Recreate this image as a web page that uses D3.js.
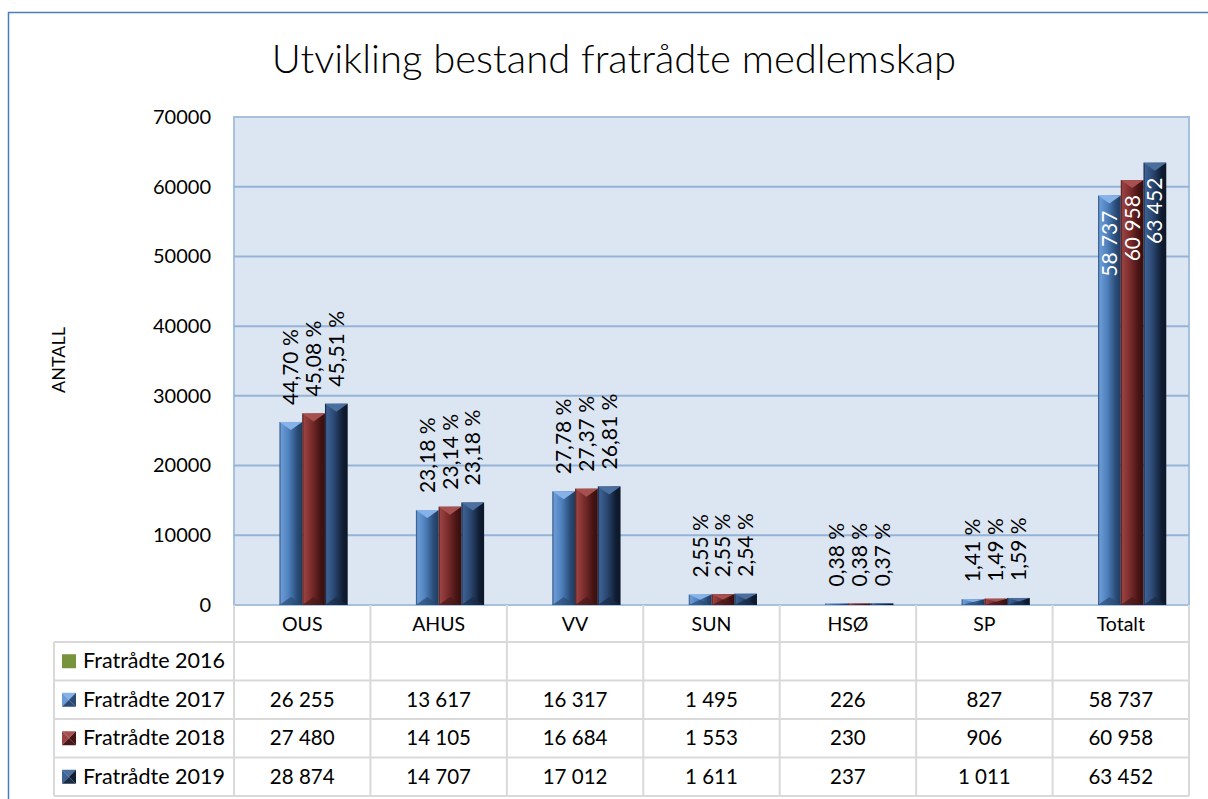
<!DOCTYPE html>
<html lang="no">
<head>
<meta charset="UTF-8" />
<title>Utvikling bestand fratrådte medlemskap</title>
<style>
  body { margin: 0; background: #fff; }
  svg { display: block; font-family: Lato, "Noto Sans", sans-serif; }
</style>
</head>
<body>
<script src="https://d3js.org/d3.v7.min.js"></script>
<script>

// data
var categories = ["OUS", "AHUS", "VV", "SUN", "HSØ", "SP", "Totalt"];
var seriesNames = ["Fratrådte 2016", "Fratrådte 2017", "Fratrådte 2018", "Fratrådte 2019"];
var v2016 = [null, null, null, null, null, null, null];
var v2017 = [26255, 13617, 16317, 1495, 226, 827, 58737];
var v2018 = [27480, 14105, 16684, 1553, 230, 906, 60958];
var v2019 = [28874, 14707, 17012, 1611, 237, 1011, 63452];
var yTicks = [0, 10000, 20000, 30000, 40000, 50000, 60000, 70000];

var allValues = [v2016, v2017, v2018, v2019];

// colours of each series: [light, main, dark, top bevel, bottom bevel]
var palette = [
  ["#8aa94c", "#77933c", "#4f6228", "#9bbb59", "#4f6228"],
  ["#6b9bd6", "#4f81bd", "#284a75", "#86b2ea", "#2a4b73"],
  ["#9a4242", "#7b2c2c", "#451313", "#a65050", "#471818"],
  ["#3d6194", "#2b4872", "#0f1c31", "#4a6f9f", "#1a2b45"]
];

var width = 1208, height = 799;
var plot = { left: 234, right: 1189, top: 117, bottom: 605 };
var tableLeft = 54;
var headerBottom = 642;
var rowHeight = 38.5;

var loc = d3.formatLocale({ decimal: ",", thousands: " ", grouping: [3], currency: ["", ""] });
var fmtNum = loc.format(",d");
var fmtPct = function(v) { return loc.format(".2f")(v * 100) + " %"; };

var svg = d3.select("body").append("svg")
  .attr("width", width)
  .attr("height", height);

var defs = svg.append("defs");
palette.forEach(function(c, i) {
  var g = defs.append("linearGradient")
    .attr("id", "grad" + i)
    .attr("x1", 0).attr("x2", 1).attr("y1", 0).attr("y2", 0);
  g.append("stop").attr("offset", "0%").attr("stop-color", c[2]);
  g.append("stop").attr("offset", "8%").attr("stop-color", c[0]);
  g.append("stop").attr("offset", "40%").attr("stop-color", c[1]);
  g.append("stop").attr("offset", "80%").attr("stop-color", c[2]);
  g.append("stop").attr("offset", "100%").attr("stop-color", d3.color(c[2]).darker(0.6));
});

// outer chart frame
svg.append("rect")
  .attr("x", 8.5).attr("y", 12.5)
  .attr("width", 1400).attr("height", 1000)
  .attr("fill", "none")
  .attr("stroke", "#4a7ebb")
  .attr("stroke-width", 1.5);

svg.append("text")
  .attr("x", 614).attr("y", 73)
  .attr("text-anchor", "middle")
  .attr("font-size", 40)
  .attr("font-weight", 300)
  .attr("fill", "#000")
  .text("Utvikling bestand fratrådte medlemskap");

var y = d3.scaleLinear().domain([0, 70000]).range([plot.bottom, plot.top]);
var x0 = d3.scaleBand().domain(categories).range([plot.left, plot.right]);
// four slots per category, the empty 2016 series keeps the first one
var x1 = d3.scaleBand().domain([0, 1, 2, 3]).range([0, x0.bandwidth()]).paddingOuter(1);

// plot area
svg.append("rect")
  .attr("x", plot.left).attr("y", plot.top)
  .attr("width", plot.right - plot.left).attr("height", plot.bottom - plot.top)
  .attr("fill", "#dce6f2")
  .attr("stroke", "#a7c0de")
  .attr("stroke-width", 2);

svg.append("g")
  .selectAll("line")
  .data(yTicks.filter(function(t) { return t > 0 && t < 70000; }))
  .join("line")
  .attr("x1", plot.left).attr("x2", plot.right)
  .attr("y1", function(d) { return y(d); })
  .attr("y2", function(d) { return y(d); })
  .attr("stroke", "#95b3d7")
  .attr("stroke-width", 2);

// y axis labels
var yAxis = d3.axisLeft(y).tickValues(yTicks).tickSize(0).tickPadding(23).tickFormat(d3.format("d"));
var yg = svg.append("g").attr("transform", "translate(" + plot.left + ",0)").call(yAxis);
yg.select(".domain").remove();
yg.selectAll("text").attr("font-size", 20).attr("font-family", "Lato, sans-serif").attr("fill", "#000");

svg.append("text")
  .attr("transform", "translate(65,360) rotate(-90)")
  .attr("text-anchor", "middle")
  .attr("font-size", 18)
  .text("ANTALL");

// bars
var barData = [];
[1, 2, 3].forEach(function(s) {
  categories.forEach(function(c, i) {
    barData.push({ s: s, cat: c, i: i, v: allValues[s][i], total: allValues[s][categories.length - 1] });
  });
});

var bars = svg.append("g").selectAll("g")
  .data(barData)
  .join("g")
  .attr("transform", function(d) { return "translate(" + (x0(d.cat) + x1(d.s)) + ",0)"; });

var bw = x1.bandwidth();

bars.append("rect")
  .attr("x", 0)
  .attr("y", function(d) { return y(d.v); })
  .attr("width", bw)
  .attr("height", function(d) { return y(0) - y(d.v); })
  .attr("fill", function(d) { return "url(#grad" + d.s + ")"; });

bars.append("path")
  .attr("d", function(d) {
    var t = y(d.v), h = Math.min(8, (y(0) - t) / 2);
    return "M0," + t + "L" + bw + "," + t + "L" + (bw / 2) + "," + (t + h) + "Z";
  })
  .attr("fill", function(d) { return palette[d.s][3]; });

bars.append("path")
  .attr("d", function(d) {
    var b = y(0), h = Math.min(8, (y(0) - y(d.v)) / 2);
    return "M0," + b + "L" + bw + "," + b + "L" + (bw / 2) + "," + (b - h) + "Z";
  })
  .attr("fill", function(d) { return palette[d.s][4]; })
  .attr("opacity", 0.7);

// data labels
bars.append("text")
  .attr("transform", function(d) {
    var ty = d.cat === "Totalt" ? y(d.v) + 15 : y(d.v) - 17;
    return "translate(" + (bw / 2 + 7.5) + "," + ty + ") rotate(-90)";
  })
  .attr("text-anchor", function(d) { return d.cat === "Totalt" ? "end" : "start"; })
  .attr("font-size", 21)
  .attr("fill", function(d) { return d.cat === "Totalt" ? "#fff" : "#000"; })
  .text(function(d) { return d.cat === "Totalt" ? fmtNum(d.v) : fmtPct(d.v / d.total); });

// data table
var table = svg.append("g");
var gridColor = "#d9d9d9";
var tableBottom = headerBottom + rowHeight * 4;

x0.domain().concat([null]).forEach(function(c) {
  var xx = c === null ? plot.right : x0(c);
  table.append("line")
    .attr("x1", xx).attr("x2", xx)
    .attr("y1", plot.bottom).attr("y2", tableBottom)
    .attr("stroke", gridColor).attr("stroke-width", 2);
});
table.append("line")
  .attr("x1", tableLeft).attr("x2", tableLeft)
  .attr("y1", headerBottom).attr("y2", tableBottom)
  .attr("stroke", gridColor).attr("stroke-width", 2);
d3.range(5).forEach(function(r) {
  var yy = headerBottom + r * rowHeight;
  table.append("line")
    .attr("x1", tableLeft).attr("x2", plot.right)
    .attr("y1", yy).attr("y2", yy)
    .attr("stroke", gridColor).attr("stroke-width", 2);
});

table.selectAll(".cat")
  .data(categories)
  .join("text")
  .attr("x", function(d) { return x0(d) + x0.bandwidth() / 2; })
  .attr("y", 631)
  .attr("text-anchor", "middle")
  .attr("font-size", 19.5)
  .text(function(d) { return d; });

seriesNames.forEach(function(name, s) {
  var cy = headerBottom + s * rowHeight + rowHeight / 2;
  var m = table.append("g").attr("transform", "translate(69," + cy + ")");
  var c = palette[s];
  if (s === 0) {
    m.append("rect").attr("x", -7).attr("y", -7).attr("width", 14).attr("height", 14).attr("fill", c[1]);
  } else {
    m.append("path").attr("d", "M-7,-7L7,-7L0,0Z").attr("fill", c[3]);
    m.append("path").attr("d", "M-7,-7L-7,7L0,0Z").attr("fill", c[0]);
    m.append("path").attr("d", "M7,-7L7,7L0,0Z").attr("fill", c[2]);
    m.append("path").attr("d", "M-7,7L7,7L0,0Z").attr("fill", c[4]);
  }
  table.append("text")
    .attr("x", 83).attr("y", cy + 7)
    .attr("font-size", 21.5)
    .text(name);
  table.append("g").selectAll("text")
    .data(allValues[s])
    .join("text")
    .attr("x", function(d, i) { return x0(categories[i]) + x0.bandwidth() / 2; })
    .attr("y", cy + 7)
    .attr("text-anchor", "middle")
    .attr("font-size", 20.5)
    .text(function(d) { return d == null ? "" : fmtNum(d); });
});

</script>
</body>
</html>
